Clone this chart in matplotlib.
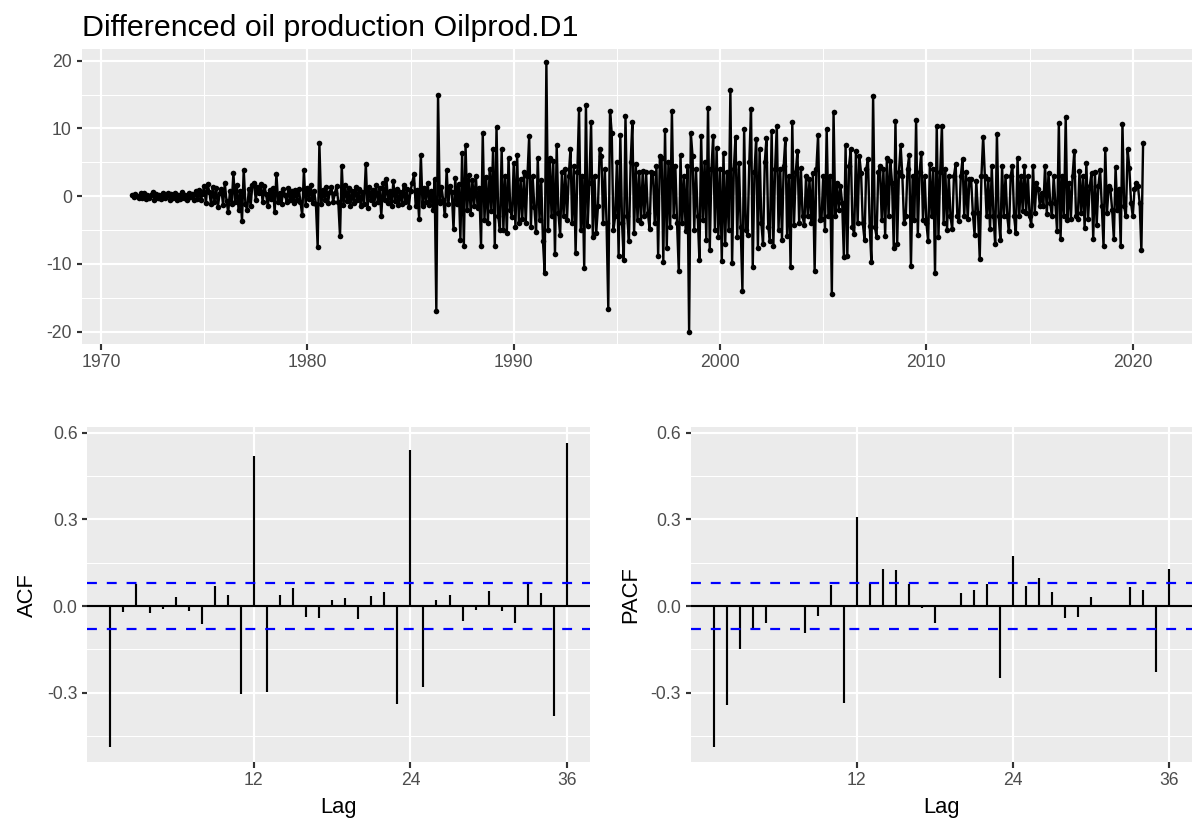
import numpy as np
import matplotlib
matplotlib.use('Agg')
import matplotlib.pyplot as plt
from matplotlib.ticker import MultipleLocator, FixedLocator

plt.rcParams['font.family'] = ['Liberation Sans', 'DejaVu Sans']
plt.rcParams['axes.unicode_minus'] = False

# differenced monthly oil production, starting July 1971 (one row per 12 months)
start_year = 1971.5
oil_d1 = [
    0.2, -0.1, 0.3, 0.0, -0.3, 0.4, -0.2, 0.5, -0.4, 0.1, -0.3, 0.2,
    0.6, -0.5, 0.3, -0.2, 0.1, -0.4, 0.5, -0.3, 0.2, 0.4, -0.6, 0.3,
    -0.2, 0.5, -0.5, 0.2, -0.4, 0.6, -0.3, 0.1, -0.6, 0.4, -0.1, 0.3,
    -0.5, 0.7, -0.4, 0.9, -0.6, 0.3, 1.5, -1.0, 1.8, 0.6, -1.2, 1.4,
    -0.8, 1.2, -1.6, 0.5, 1.0, -1.3, 1.9, -0.7, -2.4, 0.8, -1.1, 3.4,
    -0.9, 1.6, -2.0, 0.7, -3.6, 3.9, -1.2, -2.0, 1.1, -1.5, 1.6, 2.0,
    -0.6, 1.3, 0.4, 1.8, -0.9, 1.5, 0.3, -1.5, 0.9, -0.4, 1.2, -2.4,
    3.3, -0.8, 0.5, -1.1, 1.0, 0.2, -0.9, 1.2, -0.6, 0.8, -1.0, 0.9,
    -0.5, 1.1, -0.8, -2.8, 3.8, -1.3, 1.2, -0.4, 1.6, -1.0, 0.7, -1.2,
    -7.5, 7.8, -1.2, 0.9, -0.5, 1.4, -1.0, 0.6, 1.3, -0.8, 0.4, 1.5,
    -0.9, -5.9, 4.5, -1.3, 1.6, -0.7, 1.2, -1.5, 0.8, -1.0, 1.4, -0.6,
    1.0, -1.4, 0.6, -1.2, 4.7, -1.8, 1.3, -0.5, 0.9, -1.1, 1.6, -0.8,
    1.2, -2.9, 1.9, -0.6, 2.5, -1.0, 0.8, -1.5, 2.2, -0.7, 1.1, -1.3,
    0.6, -1.2, 1.7, -0.9, 1.0, -1.6, 0.8, 2.0, 3.2, -1.4, 0.9, -3.3,
    6.1, -1.5, 1.2, -0.8, 2.0, -1.3, 0.7, -2.1, 2.5, -17.0, 15.0, -1.0,
    1.4, -0.6, -2.8, 3.9, -1.2, 1.5, 0.6, -4.9, 2.7, -1.1, 1.8, -6.4,
    6.4, -7.3, 7.5, -2.0, 3.1, -2.6, 2.4, -1.5, 3.0, -1.8, 1.2, -7.4,
    9.3, -3.5, 2.8, -4.0, 4.0, -2.2, 6.9, -7.3, 10.2, -3.0, -5.0, 6.9,
    -5.0, 3.0, -5.4, 5.7, -2.0, -3.1, 4.9, -4.5, 6.1, -4.0, 2.5, -3.4,
    3.5, -4.0, 3.0, 8.9, -4.5, 3.0, -1.6, -5.3, 5.7, -3.5, 2.4, -6.6,
    -11.3, 19.8, -5.0, 5.7, -3.0, 5.2, -8.5, 7.5, -2.5, -5.8, 3.5, -3.0,
    4.0, -3.5, 3.0, 6.9, -4.0, 4.5, -8.4, 3.5, 12.8, -5.0, 3.0, -10.6,
    13.5, -4.4, 2.0, 10.9, -6.0, 3.0, -5.4, -1.5, 6.9, 5.9, -3.9, 4.0,
    -4.0, -16.6, 12.6, 9.3, -5.0, -3.0, 5.0, -8.8, 9.0, -4.0, -9.4, 11.9,
    -3.0, -6.6, 5.0, 10.9, -5.5, 4.7, -3.5, 3.5, -4.0, 3.7, -3.0, 3.5,
    -2.5, -4.8, 3.5, 3.4, -4.0, 4.5, -8.8, 5.9, 5.7, -9.7, 9.7, -7.6,
    5.0, -4.5, 12.6, -3.0, 4.5, -4.0, -11.1, 6.1, -4.0, 3.0, -5.2, 4.4,
    -20.0, 9.3, 5.9, -5.0, 4.0, -3.0, -9.4, 8.9, -3.5, 5.0, -6.4, 13.0,
    -8.0, 4.0, 8.9, -5.0, 7.1, -6.0, 4.0, -9.6, 6.4, -7.0, 3.5, -5.0,
    15.7, -9.9, 4.0, 8.8, -6.0, 4.9, -4.5, -14.0, 9.9, -5.0, -5.7, 5.0,
    12.9, -10.4, 3.5, 8.5, -7.6, 6.9, -4.0, -7.1, 5.0, 8.6, -4.5, -6.6,
    9.6, -7.3, 4.0, 10.4, -5.0, 4.0, -6.4, 4.5, 8.5, -5.9, 3.0, -10.5,
    10.9, -4.2, 3.5, 6.6, -4.0, 4.2, -3.0, -4.3, 3.0, -3.0, 2.5, -4.0,
    3.4, -11.1, 4.0, 9.0, -3.5, -3.4, 3.0, -5.0, 9.9, -3.0, 3.0, -14.5,
    12.4, -3.0, 2.0, -2.0, 1.5, -1.0, -9.0, 7.5, -8.9, 4.5, 6.9, -4.5,
    -5.6, 6.6, -4.0, 5.9, 3.4, -4.0, -6.4, 4.0, 5.5, -4.4, -9.7, 14.8,
    -4.5, -6.0, 3.5, 4.4, -3.5, 4.0, -5.9, 5.7, -3.0, 5.2, 2.0, -7.6,
    11.1, -7.0, 3.5, 7.5, 3.0, -4.0, -3.0, 4.0, 6.1, -10.3, 3.0, -3.5,
    11.2, -5.7, 3.5, 6.4, -3.5, 3.0, -4.0, -6.6, 4.7, -3.0, 4.0, -11.3,
    10.4, -6.0, 3.5, 10.4, -3.9, 4.0, -5.0, 3.0, -3.0, -4.9, 3.0, 4.7,
    -3.0, -3.7, 3.0, 5.5, -3.0, 3.5, -3.4, 2.5, 2.5, -2.5, -5.7, 2.2,
    -2.5, -9.2, 3.0, 8.8, 3.0, -3.0, 2.5, -4.9, 4.4, -3.0, -7.1, 9.2,
    -3.0, -6.4, 4.4, -3.0, 3.0, -3.0, -5.2, 3.0, 4.5, -3.0, -5.4, 5.7,
    -3.0, 3.0, -2.2, 4.4, -2.5, 3.0, -3.0, -4.2, 4.5, -2.5, 2.0, 1.0,
    -1.5, 0.5, -1.5, 4.5, -2.7, 3.4, -1.0, -3.0, 3.0, -1.0, -5.2, 10.8,
    -6.3, 3.0, -3.0, 11.7, -3.5, 2.0, -3.4, 3.0, 6.6, -3.0, -3.4, 3.7,
    -2.5, 3.0, -4.7, 4.9, -3.4, 1.5, 3.4, -6.3, 3.5, -4.3, 1.5, 3.9,
    -1.5, -7.4, 7.0, -2.5, 1.5, 1.0, -2.0, -6.3, 4.3, -2.0, 1.0, -7.3,
    10.7, -1.5, -3.0, 6.9, 4.2, -1.0, -3.0, 1.0, 2.0, 1.5, -1.0, -8.0, 7.8,
]

lags = list(range(1, 37))
acf_vals = [
    -0.489, -0.020, 0.078, -0.025, -0.010, 0.030, -0.016, -0.062, 0.070, 0.040,
    -0.305, 0.519, -0.298, 0.040, 0.061, -0.037, -0.043, 0.021, 0.029, -0.045,
    0.036, 0.047, -0.340, 0.542, -0.279, 0.021, 0.038, -0.051, -0.014, 0.053,
    -0.016, -0.060, 0.078, 0.046, -0.380, 0.565,
]
pacf_vals = [
    -0.489, -0.343, -0.150, -0.081, -0.060, -0.004, 0.003, -0.095, -0.035, 0.073,
    -0.335, 0.307, 0.081, 0.130, 0.125, 0.078, -0.005, -0.057, 0.002, 0.044,
    0.055, 0.078, -0.250, 0.174, 0.070, 0.096, 0.050, -0.043, -0.039, 0.032,
    -0.003, 0.002, 0.067, 0.055, -0.230, 0.127,
]
conf_limit = 0.08

W, H, DPI = 1192, 823, 144


def px_rect(left, top, right, bottom):
    return [left / W, 1 - bottom / H, (right - left) / W, (bottom - top) / H]


def gg_style(ax):
    ax.set_facecolor('#EBEBEB')
    for s in ax.spines.values():
        s.set_visible(False)
    ax.grid(which='major', color='white', linewidth=1.07)
    ax.grid(which='minor', color='white', linewidth=0.53)
    ax.set_axisbelow(True)
    ax.tick_params(which='major', length=2.75, width=1.07, color='#333333',
                   labelcolor='#4D4D4D', labelsize=8.8, pad=2.2)
    ax.tick_params(which='minor', length=0)


fig = plt.figure(figsize=(W / DPI, H / DPI), dpi=DPI)

# top: the differenced series
ax_ts = fig.add_axes(px_rect(81.7, 49.3, 1192, 344))
gg_style(ax_ts)
t = start_year + np.arange(len(oil_d1)) / 12
ax_ts.plot(t, oil_d1, color='black', linewidth=1.2, marker='o',
           markersize=2.8, markeredgewidth=0)
ax_ts.set_xlim(1969.065, 2022.87)
ax_ts.set_ylim(-21.82, 21.68)
ax_ts.xaxis.set_major_locator(MultipleLocator(10))
ax_ts.xaxis.set_minor_locator(MultipleLocator(5))
ax_ts.yaxis.set_major_locator(MultipleLocator(10))
ax_ts.yaxis.set_minor_locator(MultipleLocator(5))
fig.text(82 / W, 1 - 36 / H, 'Differenced oil production Oilprod.D1',
         fontsize=15.2, color='black', ha='left', va='baseline')


def corr_panel(ax, vals, label):
    gg_style(ax)
    ax.vlines(lags, 0, vals, color='black', linewidth=1.07)
    ax.axhline(0, color='black', linewidth=1.07)
    for c in (conf_limit, -conf_limit):
        ax.axhline(c, color='blue', linewidth=1.1, linestyle=(0, (4.5, 4.5)))
    ax.set_xlim(-0.77, 37.77)
    ax.set_ylim(-0.541, 0.619)
    ax.xaxis.set_major_locator(FixedLocator([12, 24, 36]))
    ax.yaxis.set_major_locator(FixedLocator([-0.3, 0.0, 0.3, 0.6]))
    ax.yaxis.set_minor_locator(FixedLocator([-0.45, -0.15, 0.15, 0.45]))
    ax.set_yticklabels(['-0.3', '0.0', '0.3', '0.6'])
    ax.set_xlabel('Lag', fontsize=11, color='black', labelpad=4)
    ax.set_ylabel(label, fontsize=11, color='black', labelpad=4.5)


ax_acf = fig.add_axes(px_rect(87.3, 427.3, 590, 762.3))
corr_panel(ax_acf, acf_vals, 'ACF')

ax_pacf = fig.add_axes(px_rect(690.7, 427.3, 1192, 762.3))
corr_panel(ax_pacf, pacf_vals, 'PACF')

fig.savefig('out.png', dpi=DPI)
